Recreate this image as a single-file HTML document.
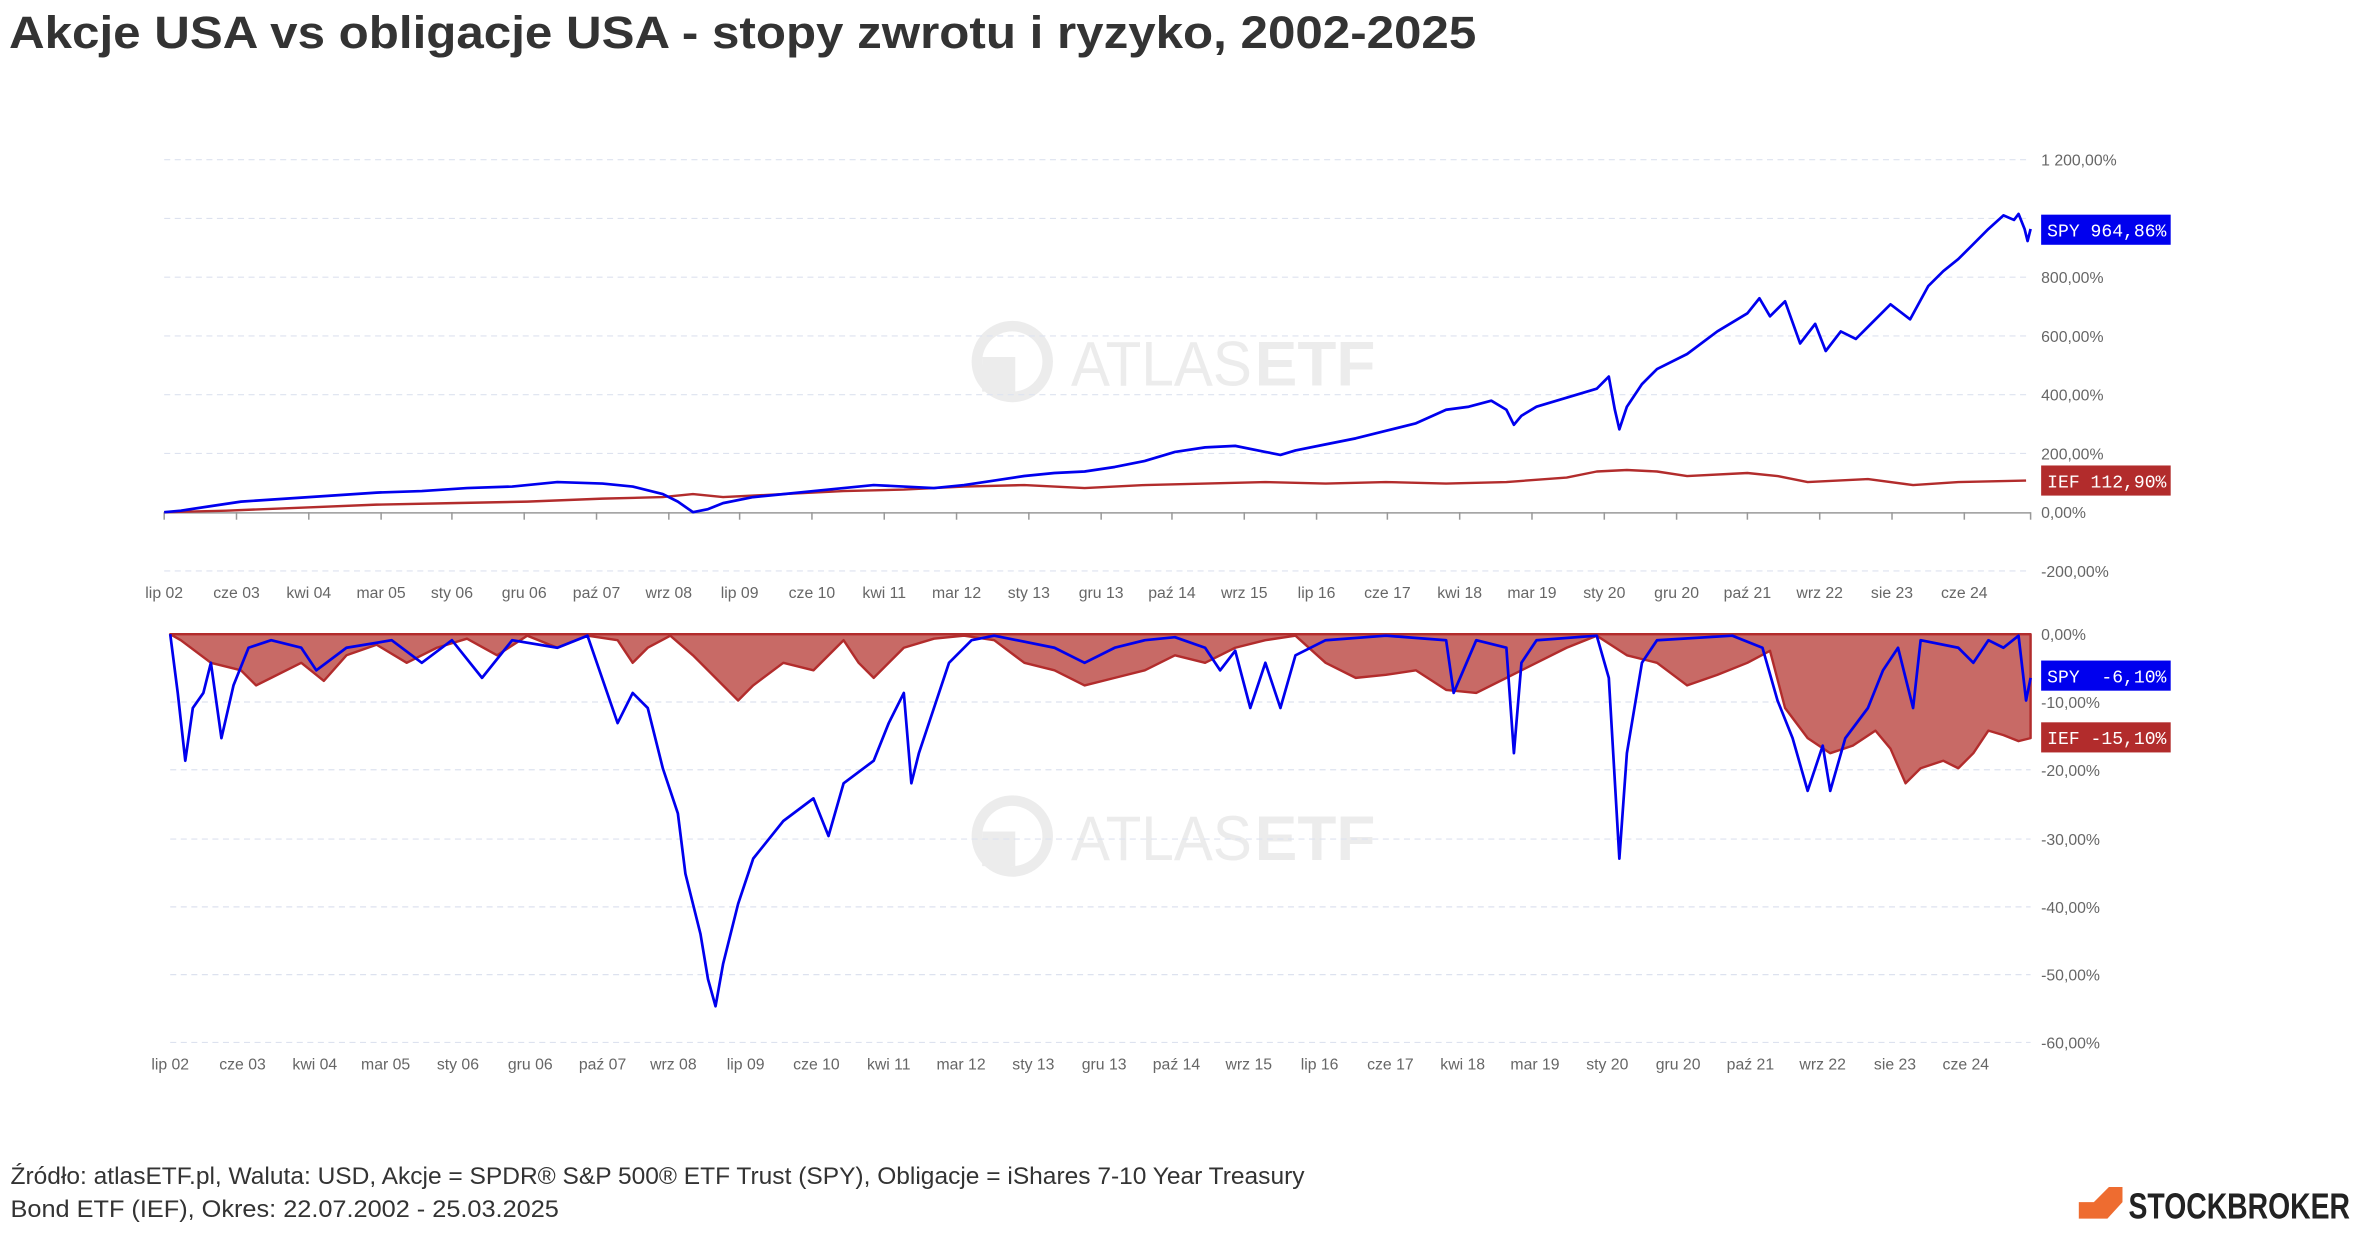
<!DOCTYPE html>
<html><head><meta charset="utf-8"><style>
html,body{margin:0;padding:0;background:#fff;}
svg{display:block;}
</style></head><body>
<svg width="2362" height="1234" viewBox="0 0 1568 819.18" xmlns="http://www.w3.org/2000/svg" font-family="Liberation Sans, sans-serif">
<rect width="1568" height="820" fill="#fff"/>
<text x="6" y="32" font-size="30" font-weight="bold" fill="#333" textLength="974" lengthAdjust="spacingAndGlyphs">Akcje USA vs obligacje USA - stopy zwrotu i ryzyko, 2002-2025</text>

<!-- watermarks -->
<g fill="#ececec">
<circle cx="672" cy="240" r="27"/><circle cx="672" cy="240" r="20" fill="#fff"/>
<path d="M652 237 H674 V260 H652 Z" fill="#ececec"/>
<text x="711" y="256" font-size="42" textLength="120" lengthAdjust="spacingAndGlyphs">ATLAS</text>
<text x="833" y="256" font-size="42" font-weight="bold" textLength="80" lengthAdjust="spacingAndGlyphs">ETF</text>
<circle cx="672" cy="555" r="27"/><circle cx="672" cy="555" r="20" fill="#fff"/>
<path d="M652 552 H674 V575 H652 Z" fill="#ececec"/>
<text x="711" y="571" font-size="42" textLength="120" lengthAdjust="spacingAndGlyphs">ATLAS</text>
<text x="833" y="571" font-size="42" font-weight="bold" textLength="80" lengthAdjust="spacingAndGlyphs">ETF</text>
</g>

<!-- upper grid -->
<g stroke="#dde2ef" stroke-width="0.8" stroke-dasharray="4,3">
<line x1="109" x2="1348" y1="106" y2="106"/><line x1="109" x2="1348" y1="145" y2="145"/>
<line x1="109" x2="1348" y1="184" y2="184"/><line x1="109" x2="1348" y1="223" y2="223"/>
<line x1="109" x2="1348" y1="262" y2="262"/><line x1="109" x2="1348" y1="301" y2="301"/>
<line x1="109" x2="1348" y1="379" y2="379"/>
<line x1="113" x2="1348" y1="466" y2="466"/><line x1="113" x2="1348" y1="511" y2="511"/>
<line x1="113" x2="1348" y1="557" y2="557"/><line x1="113" x2="1348" y1="602" y2="602"/>
<line x1="113" x2="1348" y1="647" y2="647"/><line x1="113" x2="1348" y1="692" y2="692"/>
</g>
<g font-size="10.5" fill="#666">
<text x="1355" y="110">1 200,00%</text><text x="1355" y="188">800,00%</text>
<text x="1355" y="227">600,00%</text><text x="1355" y="266">400,00%</text>
<text x="1355" y="305">200,00%</text><text x="1355" y="344">0,00%</text>
<text x="1355" y="383">-200,00%</text>
<text x="1355" y="425">0,00%</text><text x="1355" y="470">-10,00%</text>
<text x="1355" y="515">-20,00%</text><text x="1355" y="561">-30,00%</text>
<text x="1355" y="606">-40,00%</text><text x="1355" y="651">-50,00%</text>
<text x="1355" y="696">-60,00%</text>
</g>

<!-- upper axis -->
<line x1="109" x2="1348" y1="340.5" y2="340.5" stroke="#999" stroke-width="1"/>
<g stroke="#999" stroke-width="1">
<line x1="109" x2="109" y1="340" y2="345"/><line x1="157" x2="157" y1="340" y2="345"/><line x1="205" x2="205" y1="340" y2="345"/><line x1="253" x2="253" y1="340" y2="345"/><line x1="300" x2="300" y1="340" y2="345"/><line x1="348" x2="348" y1="340" y2="345"/><line x1="396" x2="396" y1="340" y2="345"/><line x1="444" x2="444" y1="340" y2="345"/><line x1="491" x2="491" y1="340" y2="345"/><line x1="539" x2="539" y1="340" y2="345"/><line x1="587" x2="587" y1="340" y2="345"/><line x1="635" x2="635" y1="340" y2="345"/><line x1="683" x2="683" y1="340" y2="345"/><line x1="731" x2="731" y1="340" y2="345"/><line x1="778" x2="778" y1="340" y2="345"/><line x1="826" x2="826" y1="340" y2="345"/><line x1="874" x2="874" y1="340" y2="345"/><line x1="921" x2="921" y1="340" y2="345"/><line x1="969" x2="969" y1="340" y2="345"/><line x1="1017" x2="1017" y1="340" y2="345"/><line x1="1065" x2="1065" y1="340" y2="345"/><line x1="1113" x2="1113" y1="340" y2="345"/><line x1="1160" x2="1160" y1="340" y2="345"/><line x1="1208" x2="1208" y1="340" y2="345"/><line x1="1256" x2="1256" y1="340" y2="345"/><line x1="1304" x2="1304" y1="340" y2="345"/><line x1="1348" x2="1348" y1="340" y2="345"/>
</g>
<g font-size="10.5" fill="#666" text-anchor="middle">
<text x="109" y="397">lip 02</text><text x="157" y="397">cze 03</text><text x="205" y="397">kwi 04</text><text x="253" y="397">mar 05</text><text x="300" y="397">sty 06</text><text x="348" y="397">gru 06</text><text x="396" y="397">paź 07</text><text x="444" y="397">wrz 08</text><text x="491" y="397">lip 09</text><text x="539" y="397">cze 10</text><text x="587" y="397">kwi 11</text><text x="635" y="397">mar 12</text><text x="683" y="397">sty 13</text><text x="731" y="397">gru 13</text><text x="778" y="397">paź 14</text><text x="826" y="397">wrz 15</text><text x="874" y="397">lip 16</text><text x="921" y="397">cze 17</text><text x="969" y="397">kwi 18</text><text x="1017" y="397">mar 19</text><text x="1065" y="397">sty 20</text><text x="1113" y="397">gru 20</text><text x="1160" y="397">paź 21</text><text x="1208" y="397">wrz 22</text><text x="1256" y="397">sie 23</text><text x="1304" y="397">cze 24</text>
</g>
<g font-size="10.5" fill="#666" text-anchor="middle">
<text x="113" y="710">lip 02</text><text x="161" y="710">cze 03</text><text x="209" y="710">kwi 04</text><text x="256" y="710">mar 05</text><text x="304" y="710">sty 06</text><text x="352" y="710">gru 06</text><text x="400" y="710">paź 07</text><text x="447" y="710">wrz 08</text><text x="495" y="710">lip 09</text><text x="542" y="710">cze 10</text><text x="590" y="710">kwi 11</text><text x="638" y="710">mar 12</text><text x="686" y="710">sty 13</text><text x="733" y="710">gru 13</text><text x="781" y="710">paź 14</text><text x="829" y="710">wrz 15</text><text x="876" y="710">lip 16</text><text x="923" y="710">cze 17</text><text x="971" y="710">kwi 18</text><text x="1019" y="710">mar 19</text><text x="1067" y="710">sty 20</text><text x="1114" y="710">gru 20</text><text x="1162" y="710">paź 21</text><text x="1210" y="710">wrz 22</text><text x="1258" y="710">sie 23</text><text x="1305" y="710">cze 24</text>
</g>

<!-- upper series -->
<polyline fill="none" stroke="#b22c2c" stroke-width="1.6" stroke-linejoin="round" points="109,340 150,339 200,337 250,335 300,334 350,333 400,331 440,330 460,328 480,330 520,328 560,326 600,325 640,323 680,322 720,324 760,322 800,321 840,320 880,321 920,320 960,321 1000,320 1040,317 1060,313 1080,312 1100,313 1120,316 1160,314 1180,316 1200,320 1240,318 1270,322 1300,320 1345,319"/>
<polyline fill="none" stroke="#0000ee" stroke-width="1.8" stroke-linejoin="round" points="109,340 120,339 140,336 160,333 190,331 220,329 250,327 280,326 310,324 340,323 370,320 400,321 420,323 440,328 450,333 460,340 470,338 480,334 500,330 520,328 540,326 560,324 580,322 600,323 620,324 640,322 660,319 680,316 700,314 720,313 740,310 760,306 780,300 800,297 820,296 840,300 850,302 860,299 880,295 900,291 920,286 940,281 960,272 975,270 990,266 1000,272 1005,282 1010,276 1020,270 1040,264 1060,258 1068,250 1072,272 1075,285 1080,270 1090,255 1100,245 1120,235 1140,220 1160,208 1168,198 1175,210 1185,200 1195,228 1205,215 1212,233 1222,220 1232,225 1242,215 1255,202 1268,212 1280,190 1290,180 1300,172 1310,162 1320,152 1330,143 1337,146 1340,142 1344,152 1346,160 1348,152"/>

<!-- lower series -->
<polygon fill="#c86a66" stroke="#b22c2c" stroke-width="1.6" stroke-linejoin="round" points="113,421 120,425 140,440 160,445 170,455 180,450 200,440 215,452 230,435 250,428 270,440 290,430 310,424 330,435 350,422 370,430 390,422 410,425 420,440 430,430 445,422 460,435 475,450 490,465 500,455 520,440 540,445 560,425 570,440 580,450 600,430 620,424 640,422 660,425 680,440 700,445 720,455 740,450 760,445 780,435 800,440 820,430 840,425 860,422 880,440 900,450 920,448 940,445 960,458 980,460 1000,450 1020,440 1040,430 1060,422 1080,435 1100,440 1120,455 1140,448 1160,440 1175,432 1185,470 1200,490 1215,500 1230,495 1245,485 1255,497 1265,520 1275,510 1290,505 1300,510 1310,500 1320,485 1330,488 1340,492 1348,490 1348,421"/>
<line x1="113" x2="1348" y1="421" y2="421" stroke="#b22c2c" stroke-width="1.2"/>
<polyline fill="none" stroke="#0000ee" stroke-width="1.8" stroke-linejoin="round" points="113,421 118,460 123,505 128,470 135,460 140,440 147,490 155,455 165,430 180,425 200,430 210,445 230,430 260,425 280,440 300,425 320,450 340,425 370,430 390,422 410,480 420,460 430,470 440,510 450,540 455,580 460,600 465,620 470,650 475,668 480,640 490,600 500,570 520,545 540,530 550,555 560,520 580,505 590,480 600,460 605,520 610,500 620,470 630,440 645,425 660,422 700,430 720,440 740,430 760,425 780,423 800,430 810,445 820,432 830,470 840,440 850,470 860,435 880,425 920,422 960,425 965,460 980,425 1000,430 1005,500 1010,440 1020,425 1060,422 1068,450 1075,570 1080,500 1090,440 1100,425 1150,422 1170,430 1180,465 1190,490 1200,525 1210,495 1215,525 1225,490 1240,470 1250,445 1260,430 1270,470 1275,425 1300,430 1310,440 1320,425 1330,430 1340,422 1345,465 1348,450"/>

<!-- value labels -->
<g font-family="Liberation Mono, monospace" font-size="12" fill="#fff">
<rect x="1355" y="142.5" width="86" height="20" fill="#0000ee"/><text x="1359" y="157" xml:space="preserve">SPY 964,86%</text>
<rect x="1355" y="309" width="86" height="20" fill="#b22c2c"/><text x="1359" y="323.5" xml:space="preserve">IEF 112,90%</text>
<rect x="1355" y="438.5" width="86" height="20" fill="#0000ee"/><text x="1359" y="453" xml:space="preserve">SPY  -6,10%</text>
<rect x="1355" y="479.5" width="86" height="20" fill="#b22c2c"/><text x="1359" y="494" xml:space="preserve">IEF -15,10%</text>
</g>

<!-- footer -->
<g font-size="16" fill="#333">
<text x="7" y="786" textLength="859" lengthAdjust="spacingAndGlyphs">Źródło: atlasETF.pl, Waluta: USD, Akcje = SPDR® S&amp;P 500® ETF Trust (SPY), Obligacje = iShares 7-10 Year Treasury</text>
<text x="7" y="808" textLength="364" lengthAdjust="spacingAndGlyphs">Bond ETF (IEF), Okres: 22.07.2002 - 25.03.2025</text>
</g>
<polygon points="1380,809 1380,798 1390,798 1400,788 1409,788 1409,798 1399,809" fill="#ee6c30"/>
<text x="1413" y="809" font-size="24" font-weight="bold" fill="#222" textLength="147" lengthAdjust="spacingAndGlyphs">STOCKBROKER</text>
</svg>
</body></html>
